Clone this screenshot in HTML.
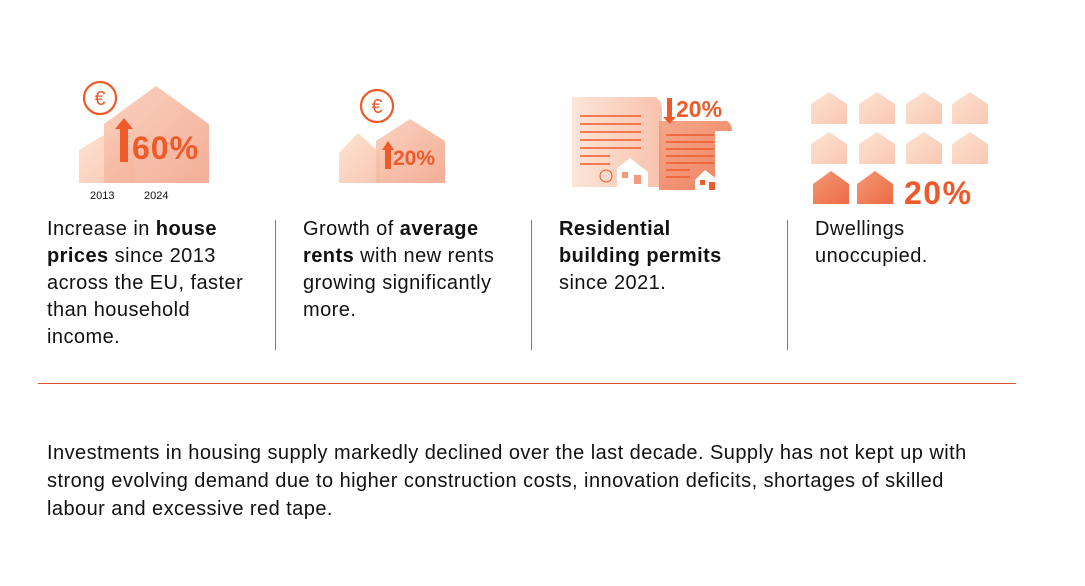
<!DOCTYPE html>
<html><head><meta charset="utf-8"><style>
body{margin:0;width:1085px;height:586px;background:#fff;position:relative;overflow:hidden;font-family:"Liberation Sans","DejaVu Sans",sans-serif;color:#111}
.t{position:absolute;font-size:20px;line-height:27px;letter-spacing:0.45px;white-space:nowrap}
.t b{font-weight:bold}
.div{position:absolute;width:1px;background:#e8572a;top:220px;height:130px}
</style></head><body>
<svg width="1085" height="220" style="position:absolute;left:0;top:0">
<defs>
<linearGradient id="gl" x1="0" y1="0" x2="1" y2="1"><stop offset="0" stop-color="#fde2d2"/><stop offset="1" stop-color="#f8c8b2"/></linearGradient>
<linearGradient id="gb" x1="0" y1="0" x2="1" y2="1"><stop offset="0" stop-color="#f9cdb8"/><stop offset="1" stop-color="#f2a58c"/></linearGradient>
<linearGradient id="gd" x1="0" y1="0" x2="1" y2="1"><stop offset="0" stop-color="#f39a76"/><stop offset="1" stop-color="#ec6a45"/></linearGradient>
<linearGradient id="gp" x1="0" y1="0" x2="1" y2="0"><stop offset="0" stop-color="#fde5d8"/><stop offset="1" stop-color="#f7c2ad"/></linearGradient>
</defs>
<g>
<path d="M79 150 L107 133 L135 150 L135 183 L79 183Z" fill="url(#gl)"/>
<path d="M104 124 L156 86 L209 124 L209 183 L104 183Z" fill="url(#gb)" opacity="0.9"/>
<circle cx="100" cy="98" r="16" fill="#fff" stroke="#ef5a2a" stroke-width="2.2"/>
<text x="100" y="105" text-anchor="middle" font-size="20" fill="#ef5a2a">€</text>
<path d="M120 162 L120 129 L115 129 L124 118 L133 129 L128 129 L128 162Z" fill="#ef5a2a"/>
<text x="132" y="159" font-size="32" font-weight="bold" letter-spacing="1" fill="#ef5a2a">60%</text>
<text x="90" y="199" font-size="11" fill="#111">2013</text>
<text x="144" y="199" font-size="11" fill="#111">2024</text>
</g>
<g>
<path d="M339 153 L358 133 L380 153 L380 183 L339 183Z" fill="url(#gl)"/>
<path d="M376 141 L410 119 L445 141 L445 183 L376 183Z" fill="url(#gb)" opacity="0.9"/>
<circle cx="377" cy="106" r="16" fill="#fff" stroke="#ef5a2a" stroke-width="2.2"/>
<text x="377" y="113" text-anchor="middle" font-size="20" fill="#ef5a2a">€</text>
<path d="M385 169 L385 150 L382 150 L388 141 L394 150 L391 150 L391 169Z" fill="#ef5a2a"/>
<text x="393" y="165" font-size="21" font-weight="bold" fill="#ef5a2a">20%</text>
</g>
<g>
<path d="M572 97 L655 97 Q662 100 662 110 L660 187 L572 187Z" fill="url(#gp)"/>
<g stroke="#ef5a2a" stroke-width="1.5">
<line x1="580" y1="116" x2="641" y2="116"/><line x1="580" y1="124" x2="641" y2="124"/><line x1="580" y1="132" x2="641" y2="132"/><line x1="580" y1="140" x2="641" y2="140"/><line x1="580" y1="148" x2="641" y2="148"/><line x1="580" y1="156" x2="610" y2="156"/><line x1="580" y1="164" x2="610" y2="164"/>
</g>
<circle cx="606" cy="176" r="6" fill="none" stroke="#ef5a2a" stroke-width="1"/>
<path d="M617 168 L630 158 L648 172 L648 187 L617 187Z" fill="#fff"/>
<rect x="622" y="172" width="6" height="6" fill="#f29a7b"/><rect x="634" y="175" width="7" height="9" fill="#f29a7b"/>
<path d="M659 121 L727 121 Q732 124 732 131 L715 131 L715 190 L659 190Z" fill="url(#gd)" opacity="0.85"/>
<g stroke="#ef5a2a" stroke-width="1.5">
<line x1="666" y1="135" x2="714" y2="135"/><line x1="666" y1="142" x2="714" y2="142"/><line x1="666" y1="149" x2="714" y2="149"/><line x1="666" y1="156" x2="714" y2="156"/><line x1="666" y1="163" x2="714" y2="163"/><line x1="666" y1="170" x2="690" y2="170"/><line x1="666" y1="177" x2="690" y2="177"/>
</g>
<path d="M695 180 L705 170 L718 180 L718 190 L695 190Z" fill="#fff"/>
<rect x="700" y="180" width="5" height="5" fill="#ef5a2a"/><rect x="709" y="182" width="6" height="8" fill="#ef5a2a"/>
<path d="M667 98 L672 98 L672 117 L676 117 L669.5 124 L663 117 L667 117Z" fill="#ef5a2a"/>
<text x="676" y="117" font-size="23" font-weight="bold" fill="#ef5a2a">20%</text>
</g>
<g>
<g fill="url(#gl)">
<path d="M811 104 L829 92 L847 104 L847 124 L811 124Z"/><path d="M859 104 L877 92 L895 104 L895 124 L859 124Z"/><path d="M906 104 L924 92 L942 104 L942 124 L906 124Z"/><path d="M952 104 L970 92 L988 104 L988 124 L952 124Z"/>
<path d="M811 144 L829 132 L847 144 L847 164 L811 164Z"/><path d="M859 144 L877 132 L895 144 L895 164 L859 164Z"/><path d="M906 144 L924 132 L942 144 L942 164 L906 164Z"/><path d="M952 144 L970 132 L988 144 L988 164 L952 164Z"/>
</g>
<path d="M813 184 L831 171 L849 184 L849 204 L813 204Z" fill="url(#gd)"/>
<path d="M857 184 L875 171 L893 184 L893 204 L857 204Z" fill="url(#gd)"/>
<text x="904" y="204" font-size="32" font-weight="bold" letter-spacing="1.5" fill="#ef5a2a">20%</text>
</g>
</svg>
<div class="t" style="left:47px;top:216px">Increase in <b>house</b><br><b>prices</b> since 2013<br>across the EU, faster<br>than household<br>income.</div>
<div class="div" style="left:275px"></div>
<div class="t" style="left:303px;top:216px">Growth of <b>average</b><br><b>rents</b> with new rents<br>growing significantly<br>more.</div>
<div class="div" style="left:531px"></div>
<div class="t" style="left:559px;top:216px"><b>Residential</b><br><b>building permits</b><br>since 2021.</div>
<div class="div" style="left:787px"></div>
<div class="t" style="left:815px;top:216px">Dwellings<br>unoccupied.</div>
<div style="position:absolute;left:38px;top:383px;width:978px;height:1px;background:#e0532a"></div>
<div class="t" style="left:47px;top:439px;line-height:28px">Investments in housing supply markedly declined over the last decade. Supply has not kept up with<br>strong evolving demand due to higher construction costs, innovation deficits, shortages of skilled<br>labour and excessive red tape.</div>
</body></html>
